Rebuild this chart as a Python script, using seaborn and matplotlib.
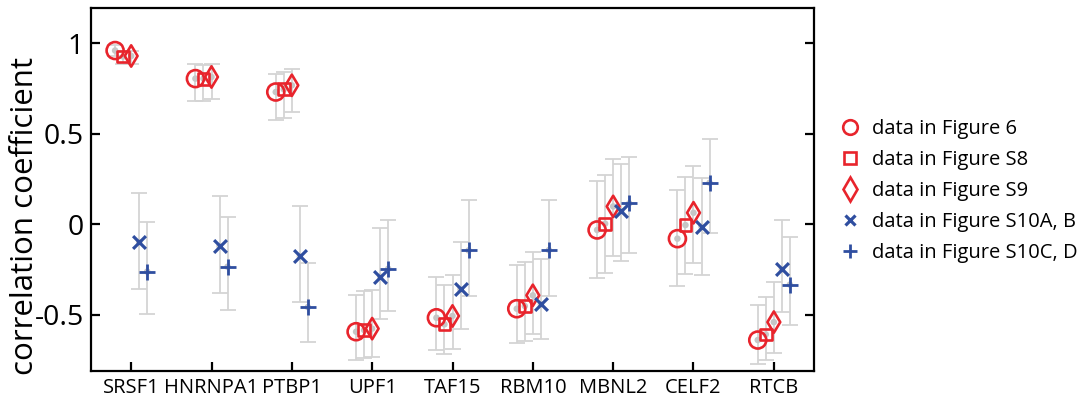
import numpy as np
import pandas as pd
import matplotlib
matplotlib.use("Agg")
import matplotlib.pyplot as plt
from matplotlib.lines import Line2D
import seaborn as sns

categories = ['SRSF1', 'HNRNPA1', 'PTBP1', 'UPF1', 'TAF15', 'RBM10', 'MBNL2', 'CELF2', 'RTCB']

series_names = ['data in Figure 6', 'data in Figure S8', 'data in Figure S9',
                'data in Figure S10A, B', 'data in Figure S10C, D']

fig6 = [0.960, 0.805, 0.731, -0.593, -0.516, -0.466, -0.031, -0.079, -0.639]
fig6_lo = [0.930, 0.681, 0.575, -0.750, -0.692, -0.656, -0.298, -0.341, -0.773]
fig6_hi = [0.990, 0.884, 0.833, -0.390, -0.291, -0.225, 0.239, 0.192, -0.444]

figS8 = [0.927, 0.805, 0.746, -0.584, -0.552, -0.451, 0.004, -0.004, -0.608]
figS8_lo = [0.885, 0.681, 0.587, -0.737, -0.718, -0.646, -0.271, -0.274, -0.751]
figS8_hi = [0.955, 0.878, 0.844, -0.368, -0.335, -0.208, 0.272, 0.263, -0.402]

figS9 = [0.930, 0.814, 0.768, -0.576, -0.506, -0.392, 0.099, 0.064, -0.540]
figS9_lo = [0.885, 0.694, 0.623, -0.733, -0.689, -0.608, -0.173, -0.212, -0.709]
figS9_hi = [0.960, 0.888, 0.856, -0.363, -0.280, -0.151, 0.361, 0.322, -0.319]

figS10AB = [-0.098, -0.120, -0.177, -0.289, -0.359, -0.442, 0.074, -0.013, -0.249]
figS10AB_lo = [-0.355, -0.377, -0.427, -0.521, -0.576, -0.635, -0.203, -0.282, -0.484]
figS10AB_hi = [0.175, 0.157, 0.101, -0.020, -0.096, -0.193, 0.335, 0.258, 0.026]

figS10CD = [-0.261, -0.234, -0.457, -0.245, -0.144, -0.142, 0.116, 0.230, -0.333]
figS10CD_lo = [-0.493, -0.475, -0.648, -0.481, -0.398, -0.398, -0.156, -0.046, -0.556]
figS10CD_hi = [0.013, 0.040, -0.214, 0.026, 0.134, 0.134, 0.372, 0.470, -0.070]

values = [fig6, figS8, figS9, figS10AB, figS10CD]
lows = [fig6_lo, figS8_lo, figS9_lo, figS10AB_lo, figS10CD_lo]
highs = [fig6_hi, figS8_hi, figS9_hi, figS10AB_hi, figS10CD_hi]

RED = '#e8242c'
BLUE = '#2f4ea0'
GREY = '#d4d4d4'
DOT = '#c6c6c6'

styles = [
    dict(marker='o', s=150, color=RED, lw=1.9),
    dict(marker='s', s=72, color=RED, lw=1.9),
    dict(marker='d', s=118, color=RED, lw=1.9),
    dict(marker='x', s=85, color=BLUE, lw=2.3),
    dict(marker='+', s=135, color=BLUE, lw=2.0),
]
offsets = [-0.2, -0.1, 0.0, 0.1, 0.2]

sns.set_theme(style='white')
plt.rcParams['font.family'] = ['Open Sans', 'DejaVu Sans']
plt.rcParams['text.color'] = 'black'
plt.rcParams['axes.labelcolor'] = 'black'
plt.rcParams['xtick.color'] = 'black'
plt.rcParams['ytick.color'] = 'black'

fig = plt.figure(figsize=(10.82, 4.07), dpi=100)
ax = fig.add_axes([91 / 1082, 1 - 371 / 407, (814 - 91) / 1082, (371 - 8) / 407])

rows = []
for name, v, lo, hi, off in zip(series_names, values, lows, highs, offsets):
    for i, c in enumerate(categories):
        rows.append(dict(series=name, cat=c, pos=i + off, r=v[i], lo=lo[i], hi=hi[i]))
df = pd.DataFrame(rows)

# grey error bars and centre dots
for name in series_names:
    d = df[df.series == name]
    ax.errorbar(d.pos, d.r, yerr=[d.r - d.lo, d.hi - d.r], fmt='none',
                ecolor=GREY, elinewidth=1.3, capsize=6.0, capthick=1.3, zorder=1)
sns.scatterplot(data=df, x='pos', y='r', color=DOT, s=22, edgecolor='none',
                linewidth=0, ax=ax, zorder=2, legend=False)

for name, st in zip(series_names, styles):
    d = df[df.series == name]
    if st['marker'] in ('x', '+'):
        sns.scatterplot(data=d, x='pos', y='r', marker=st['marker'], s=st['s'],
                        color=st['color'], linewidth=st['lw'], ax=ax, zorder=4, legend=False)
    else:
        sns.scatterplot(data=d, x='pos', y='r', marker=st['marker'], s=st['s'],
                        color=st['color'], linewidth=st['lw'], ax=ax, zorder=3, legend=False)
        coll = ax.collections[-1]
        coll.set_facecolor('none')
        coll.set_edgecolor(st['color'])

ax.set_xlim(-0.5, len(categories) - 0.5)
ax.set_ylim(-0.81, 1.195)
ax.set_xticks(range(len(categories)))
ax.set_xticklabels(categories, fontsize=14.5)
ax.set_yticks([-0.5, 0, 0.5, 1])
ax.set_yticklabels(['-0.5', '0', '0.5', '1'], fontsize=20.5)
ax.set_xlabel('')
ax.set_ylabel('correlation coefficient', fontsize=22.5)
ax.yaxis.set_label_coords(-0.071, 0.427)
for sp in ax.spines.values():
    sp.set_visible(True)
    sp.set_color('black')
    sp.set_linewidth(1.6)
ax.tick_params(axis='both', direction='in', length=6.5, width=1.6, color='black',
               left=True, right=True, bottom=True, top=False)
ax.tick_params(axis='x', pad=5)
ax.tick_params(axis='y', pad=5)

handles = []
for name, st in zip(series_names, styles):
    ms = {'o': 10.5, 's': 8, 'd': 12, 'x': 7.5, '+': 10}[st['marker']]
    handles.append(Line2D([], [], linestyle='none', marker=st['marker'], markersize=ms,
                          markerfacecolor='none', markeredgecolor=st['color'],
                          markeredgewidth=st['lw']))
fig.legend(handles, series_names, loc='upper left', bbox_to_anchor=(832 / 1082, 1 - 111 / 407),
           frameon=False, fontsize=14.5, handlelength=1.0, handletextpad=0.6,
           labelspacing=0.54, borderaxespad=0)

fig.savefig('out.png', dpi=100)
